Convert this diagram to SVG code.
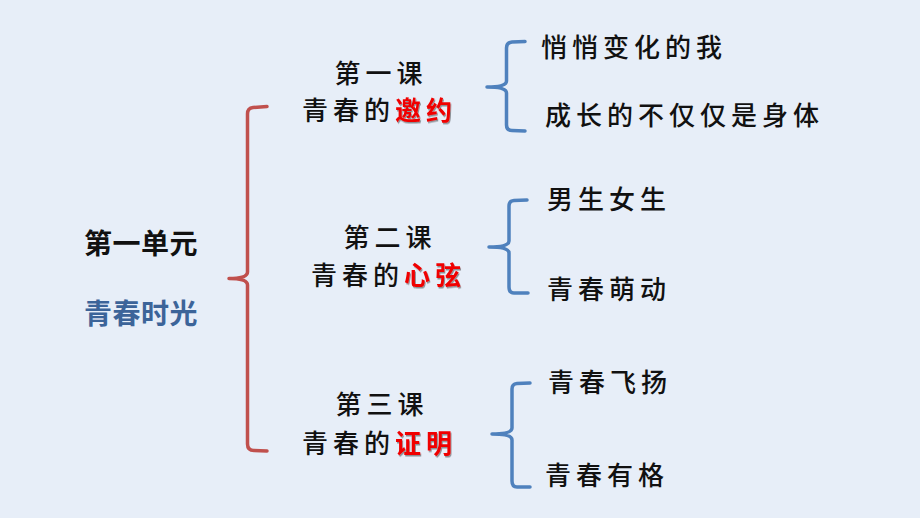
<svg xmlns="http://www.w3.org/2000/svg" width="920" height="518" viewBox="0 0 920 518">
<defs>
<style>
.t{font-family:"Noto Sans CJK SC","Noto Sans",sans-serif;font-size:26px;letter-spacing:5px;fill:#111;font-weight:500}
.hl{fill:#F00000;font-weight:700}
.u{font-family:"Noto Sans CJK SC","Noto Sans",sans-serif;font-size:28px;font-weight:700;letter-spacing:0.5px}
.rb{fill:none;stroke:#C0504D;stroke-width:3.5;stroke-linecap:round;stroke-linejoin:round}
.bb{fill:none;stroke:#4F81BD;stroke-width:3.5;stroke-linecap:round;stroke-linejoin:round}
</style>
<filter id="sh" x="-5%" y="-5%" width="115%" height="125%">
<feDropShadow dx="1" dy="1.5" stdDeviation="0.6" flood-color="#000" flood-opacity="0.4"/>
</filter>
</defs>
<rect width="920" height="518" fill="#E7EEF8"/>
<g id="connectors">
<path class="rb" d="M267,106.5 L253,107.5 Q247.5,108 247.5,114 L247.5,272 Q247.5,278.5 229,278.5 Q247.5,278.5 247.5,285 L247.5,444 Q247.5,450.5 254,450.5 L267,451"/>
<path class="bb" d="M525,41.5 L512,42 Q506.5,42.5 506.5,48 L506.5,81 Q506.5,87 487,87 Q506.5,87 506.5,93 L506.5,125 Q506.5,130.5 512,130.5 L525,131"/>
<path class="bb" d="M527,200 L514,200.5 Q509,201 509,206 L509,241 Q509,247 489,247 Q509,247 509,253 L509,287 Q509,293 514,293 L528,293"/>
<path class="bb" d="M530,383 L517,383.5 Q512,384 512,389 L512,428 Q512,434 492,434 Q512,434 512,440 L512,481 Q512,487 517,487 L530,487"/>
</g>
<g id="unit">
<text class="u" x="84" y="254" fill="#111">第一单元</text>
<text class="u" x="84" y="324" fill="#3C6499">青春时光</text>
</g>
<g id="lesson1">
<text class="t" x="381" y="83" text-anchor="middle">第一课</text>
<text class="t" x="302" y="120">青春的<tspan class="hl" filter="url(#sh)">邀约</tspan></text>
</g>
<g id="lesson2">
<text class="t" x="390" y="247" text-anchor="middle">第二课</text>
<text class="t" x="311" y="285">青春的<tspan class="hl" filter="url(#sh)">心弦</tspan></text>
</g>
<g id="lesson3">
<text class="t" x="382" y="414" text-anchor="middle">第三课</text>
<text class="t" x="302" y="453">青春的<tspan class="hl" filter="url(#sh)">证明</tspan></text>
</g>
<g id="topic1a"><text class="t" x="541" y="57">悄悄变化的我</text></g>
<g id="topic1b"><text class="t" x="545" y="125">成长的不仅仅是身体</text></g>
<g id="topic2a"><text class="t" x="547" y="209">男生女生</text></g>
<g id="topic2b"><text class="t" x="547" y="299">青春萌动</text></g>
<g id="topic3a"><text class="t" x="548" y="392">青春飞扬</text></g>
<g id="topic3b"><text class="t" x="545" y="485">青春有格</text></g>
</svg>
